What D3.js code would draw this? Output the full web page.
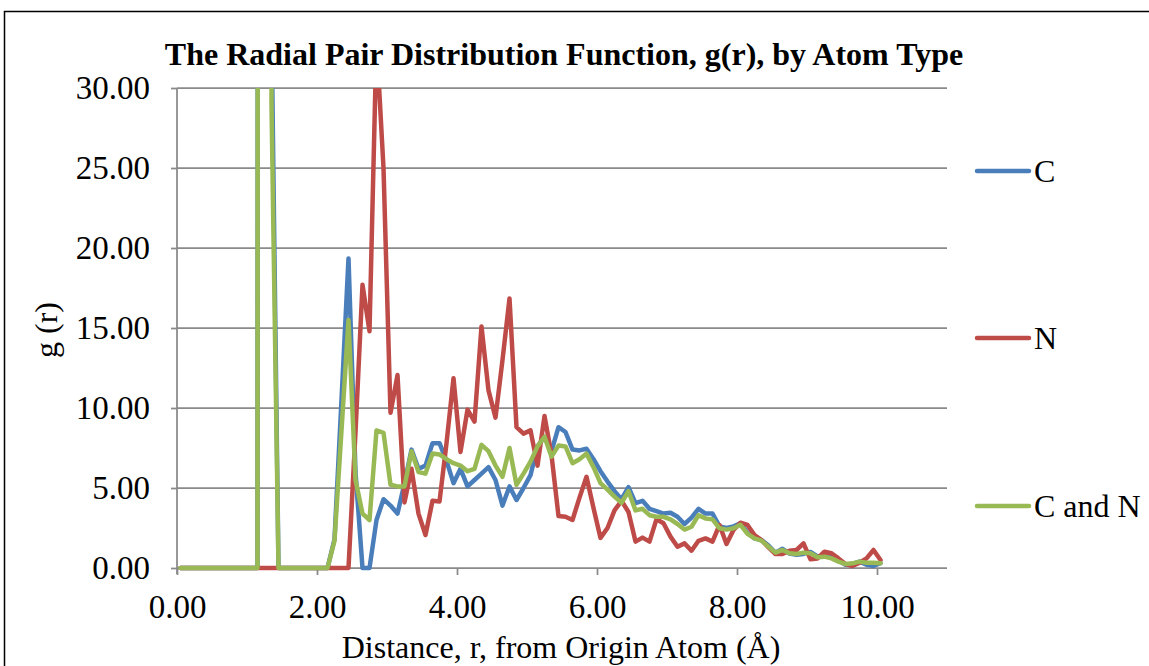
<!DOCTYPE html>
<html>
<head>
<meta charset="utf-8">
<script src="https://cdn.jsdelivr.net/npm/d3@7"></script>
<style>
  html, body { margin: 0; padding: 0; background: #fff; }
  svg { display: block; }
  text { font-family: "Liberation Serif", "Times New Roman", serif; fill: #000; }
</style>
</head>
<body>
<svg id="chart" width="1149" height="666"></svg>
<script>
// ---------- data ----------
const r = [0.05,0.15,0.25,0.35,0.45,0.55,0.65,0.75,0.85,0.95,
  1.05,1.15,1.25,1.35,1.45,1.55,1.65,1.75,1.85,1.95,
  2.05,2.15,2.25,2.35,2.45,2.55,2.65,2.75,2.85,2.95,
  3.05,3.15,3.25,3.35,3.45,3.55,3.65,3.75,3.85,3.95,
  4.05,4.15,4.25,4.35,4.45,4.55,4.65,4.75,4.85,4.95,
  5.05,5.15,5.25,5.35,5.45,5.55,5.65,5.75,5.85,5.95,
  6.05,6.15,6.25,6.35,6.45,6.55,6.65,6.75,6.85,6.95,
  7.05,7.15,7.25,7.35,7.45,7.55,7.65,7.75,7.85,7.95,
  8.05,8.15,8.25,8.35,8.45,8.55,8.65,8.75,8.85,8.95,
  9.05,9.15,9.25,9.35,9.45,9.55,9.65,9.75,9.85,9.95,
  10.05];

const gC = [0,0,0,0,0,0,0,0,0,0,
  0,0,1200,34,0,0,0,0,0,0,
  0,0,1.8,10.5,19.35,6.0,0,0,3.0,4.3,
  3.9,3.4,5.3,7.4,6.2,6.4,7.8,7.8,6.7,5.3,
  6.2,5.1,5.5,5.9,6.3,5.5,3.9,5.1,4.25,5.0,
  5.8,7.6,8.2,7.3,8.8,8.5,7.4,7.35,7.45,6.8,
  6.05,5.4,4.8,4.3,5.05,4.05,4.2,3.7,3.55,3.4,
  3.45,3.2,2.75,3.15,3.7,3.4,3.4,2.6,2.5,2.6,
  2.8,2.2,1.85,1.75,1.4,0.95,1.2,0.9,0.82,0.88,
  1.0,0.72,0.75,0.67,0.46,0.2,0.25,0.4,0.2,0.13,
  0.3];

const gN = [0,0,0,0,0,0,0,0,0,0,
  0,0,0,0,0,0,0,0,0,0,
  0,0,0,0,0,8.5,17.7,14.8,33,25,
  9.7,12.06,4.1,6.2,3.4,2.06,4.2,4.15,7.8,11.86,
  7.25,9.9,9.15,15.1,11.1,9.4,13.0,16.85,8.8,8.4,
  8.6,6.4,9.5,7.06,3.25,3.2,3.0,4.4,5.7,3.75,
  1.88,2.5,3.6,4.2,3.5,1.65,1.9,1.65,3.05,2.8,
  1.96,1.33,1.54,1.08,1.7,1.85,1.65,2.69,1.5,2.375,
  2.83,2.69,2.06,1.75,1.29,0.875,0.875,1.08,1.125,1.54,
  0.54,0.6,1.02,0.92,0.6,0.25,0.125,0.33,0.6,1.125,
  0.5];

const gCN = [0,0,0,0,0,0,0,0,0,0,
  0,0,1000,29,0,0,0,0,0,0,
  0,0,1.7,8.6,15.5,5.5,3.4,3.0,8.6,8.45,
  5.2,5.1,5.1,7.3,6.0,5.9,7.15,7.1,6.8,6.55,
  6.4,6.05,6.2,7.7,7.3,6.4,5.7,7.5,5.2,5.9,
  6.65,7.6,8.2,6.96,7.65,7.6,6.55,6.8,7.15,6.3,
  5.3,4.9,4.46,4.08,4.8,3.6,3.7,3.3,3.2,3.2,
  3.04,2.75,2.4,2.58,3.3,3.1,3.04,2.48,2.4,2.48,
  2.7,2.13,1.85,1.71,1.33,0.96,1.13,0.92,0.88,0.96,
  0.92,0.67,0.71,0.6,0.4,0.25,0.29,0.4,0.33,0.33,
  0.29];

const seriesNames = ["C", "N", "C and N"];
const seriesColors = ["#4A7EBB", "#BE4B48", "#98B954"];
const seriesValues = [gC, gN, gCN];

const xTicks = [0, 2, 4, 6, 8, 10];
const yTicks = [0, 5, 10, 15, 20, 25, 30];

const titleText = "The Radial Pair Distribution Function, g(r), by Atom Type";
const xTitle = "Distance, r, from Origin Atom (Å)";
const yTitle = "g (r)";

// ---------- layout ----------
const svg = d3.select("#chart");
const plot = { left: 177, top: 88, right: 947, bottom: 568 };
const x = d3.scaleLinear().domain([0, 11]).range([plot.left, plot.right]);
const y = d3.scaleLinear().domain([0, 30]).range([plot.bottom, plot.top]);
const gridColor = "#8a8a8a";
const fontFam = "'Liberation Serif', 'Times New Roman', serif";

// outer chart border
svg.append("rect")
  .attr("x", 4.5).attr("y", 11.5).attr("width", 1200).attr("height", 700)
  .attr("fill", "none").attr("stroke", "#000").attr("stroke-width", 1.5);

// horizontal gridlines
svg.append("g").selectAll("line").data(yTicks.filter(d => d > 0)).join("line")
  .attr("x1", plot.left).attr("x2", plot.right)
  .attr("y1", d => y(d)).attr("y2", d => y(d))
  .attr("stroke", gridColor).attr("stroke-width", 1.75);

// y axis
const yAxis = d3.axisLeft(y).tickValues(yTicks).tickSize(6).tickPadding(21)
  .tickFormat(d3.format(".2f"));
const ya = svg.append("g").attr("transform", `translate(${plot.left},0)`).call(yAxis);
ya.select(".domain").attr("stroke", gridColor).attr("stroke-width", 1.75)
  .attr("d", `M0,${plot.top}V${plot.bottom + 6}`);
ya.selectAll(".tick line").attr("stroke", gridColor).attr("stroke-width", 1.75);
ya.selectAll(".tick text").attr("font-size", 33)
  .attr("font-family", fontFam).attr("fill", "#000");

// x axis
const xAxis = d3.axisBottom(x).tickValues(xTicks).tickSize(7).tickPadding(20)
  .tickFormat(d3.format(".2f"));
const xa = svg.append("g").attr("transform", `translate(0,${plot.bottom})`).call(xAxis);
xa.select(".domain").attr("stroke", gridColor).attr("stroke-width", 1.75)
  .attr("d", `M${plot.left},0H${plot.right}`);
xa.selectAll(".tick line").attr("stroke", gridColor).attr("stroke-width", 1.75);
xa.selectAll(".tick text").attr("font-size", 33)
  .attr("font-family", fontFam).attr("fill", "#000");

// clip
svg.append("clipPath").attr("id", "plotclip").append("rect")
  .attr("x", plot.left).attr("y", plot.top).attr("width", plot.right - plot.left)
  .attr("height", plot.bottom - plot.top + 10);

const line = d3.line().x((d, i) => x(r[i])).y(d => y(d));
const lines = svg.append("g").attr("clip-path", "url(#plotclip)");
seriesValues.forEach((vals, si) => {
  lines.append("path").datum(vals)
    .attr("d", line)
    .attr("fill", "none")
    .attr("stroke", seriesColors[si])
    .attr("stroke-width", 4.5)
    .attr("stroke-linejoin", "round")
    .attr("stroke-linecap", "round");
});

// title
svg.append("text").attr("x", 564).attr("y", 65).attr("text-anchor", "middle")
  .attr("font-size", 32).attr("font-weight", "bold").text(titleText);

// axis titles
svg.append("text").attr("x", 561).attr("y", 658).attr("text-anchor", "middle")
  .attr("font-size", 32).text(xTitle);
svg.append("text").attr("transform", "translate(57,330) rotate(-90)")
  .attr("text-anchor", "middle").attr("font-size", 32).text(yTitle);

// legend
const legendY = [171, 338, 506];
const lg = svg.append("g");
seriesNames.forEach((name, i) => {
  lg.append("line").attr("x1", 977).attr("x2", 1029)
    .attr("y1", legendY[i]).attr("y2", legendY[i])
    .attr("stroke", seriesColors[i]).attr("stroke-width", 4.5).attr("stroke-linecap", "round");
  lg.append("text").attr("x", 1034).attr("y", legendY[i]).attr("dy", "0.35em")
    .attr("font-size", 32).text(name);
});
</script>
</body>
</html>
